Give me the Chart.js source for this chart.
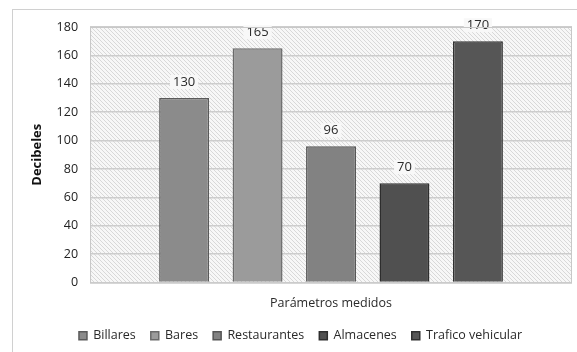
<!DOCTYPE html>
<html>
<head>
<meta charset="utf-8">
<script src="https://cdn.jsdelivr.net/npm/chart.js@4/dist/chart.umd.min.js"></script>
<style>
  html, body { margin: 0; padding: 0; background: #fff; }
  #wrap { width: 577px; height: 352px; position: relative; }
</style>
</head>
<body>
<div id="wrap"><canvas id="chart" width="577" height="352"></canvas></div>
<script>
// Data
const seriesNames = ['Billares', 'Bares', 'Restaurantes', 'Almacenes', 'Trafico vehicular'];
const seriesValues = [130, 165, 96, 70, 170];
const categories = [''];
const yMin = 0;
const yMax = 180;
const yStep = 20;

// Styles
const barColors = ['#8b8b8b', '#9b9b9b', '#828282', '#505050', '#565656'];
const barBorders = ['#5a5a5a', '#6a6a6a', '#555555', '#2e2e2e', '#303030'];
const FONT = "'Open Sans', 'Noto Sans', sans-serif";

// Hatched plot background
function makeHatch() {
    const c = document.createElement('canvas');
    c.width = 4;
    c.height = 4;
    const g = c.getContext('2d');
    g.fillStyle = '#f7f7f7';
    g.fillRect(0, 0, 4, 4);
    g.strokeStyle = '#d8d8d8';
    g.lineWidth = 1;
    g.beginPath();
    g.moveTo(-1, -1); g.lineTo(5, 5);
    g.moveTo(-1, 3); g.lineTo(1, 5);
    g.moveTo(3, -1); g.lineTo(5, 1);
    g.stroke();
    return c;
}

const backgroundPlugin = {
    id: 'plotBackground',
    beforeDraw(chart) {
        const { ctx, chartArea: a } = chart;
        ctx.save();
        // outer frame
        ctx.strokeStyle = '#d0d0d0';
        ctx.lineWidth = 1;
        ctx.strokeRect(12.5, 9.5, 620, 400);
        ctx.fillStyle = ctx.createPattern(makeHatch(), 'repeat');
        ctx.fillRect(a.left, a.top, a.right - a.left, a.bottom - a.top);
        ctx.restore();
    },
    afterDraw(chart) {
        const { ctx, chartArea: a } = chart;
        ctx.save();
        ctx.strokeStyle = '#c8c8c8';
        ctx.lineWidth = 1;
        ctx.strokeRect(a.left + 0.5, a.top + 0.5, a.right - a.left - 1, a.bottom - a.top);
        ctx.restore();
    }
};

// Value labels above bars
const valueLabels = {
    id: 'valueLabels',
    afterDatasetsDraw(chart) {
        const { ctx } = chart;
        ctx.save();
        ctx.font = '13px ' + FONT;
        ctx.textAlign = 'center';
        ctx.textBaseline = 'middle';
        chart.data.datasets.forEach((ds, i) => {
            const meta = chart.getDatasetMeta(i);
            meta.data.forEach((bar, j) => {
                const text = String(ds.data[j]);
                const w = ctx.measureText(text).width;
                const y = bar.y - 16;
                ctx.fillStyle = '#f8f8f8';
                ctx.fillRect(bar.x - w / 2 - 3, y - 7, w + 6, 14);
                ctx.fillStyle = '#2a2a2a';
                ctx.fillText(text, bar.x, y);
            });
        });
        ctx.restore();
    }
};

new Chart(document.getElementById('chart'), {
    type: 'bar',
    data: {
        labels: categories,
        datasets: seriesNames.map((name, i) => ({
            label: name,
            data: [seriesValues[i]],
            backgroundColor: barColors[i],
            borderColor: barBorders[i],
            borderWidth: 1.5,
            categoryPercentage: 0.762,
            barPercentage: 0.68
        }))
    },
    options: {
        responsive: false,
        animation: false,
        devicePixelRatio: 1,
        layout: {
            padding: { left: 29, right: 5, top: 27, bottom: 0 }
        },
        plugins: {
            legend: {
                position: 'bottom',
                labels: {
                    boxWidth: 8,
                    boxHeight: 8,
                    padding: 15,
                    color: '#2a2a2a',
                    font: { family: FONT, size: 12.5 }
                }
            },
            tooltip: { enabled: false }
        },
        scales: {
            x: {
                grid: { display: false, drawTicks: false },
                border: { display: false },
                ticks: { display: false },
                title: {
                    display: true,
                    text: 'Parámetros medidos',
                    color: '#2a2a2a',
                    font: { family: FONT, size: 12.5 },
                    padding: { top: 13, bottom: 4 }
                }
            },
            y: {
                min: yMin,
                max: yMax,
                ticks: {
                    stepSize: yStep,
                    color: '#222',
                    padding: 12,
                    font: { family: FONT, size: 12.5 }
                },
                grid: {
                    color: '#cdcdcd',
                    lineWidth: 1.5,
                    drawTicks: false
                },
                border: { display: false },
                title: {
                    display: true,
                    text: 'Decibeles',
                    color: '#111',
                    font: { family: FONT, size: 13, weight: 'bold' },
                    padding: { top: 0, bottom: 0 }
                }
            }
        }
    },
    plugins: [backgroundPlugin, valueLabels]
});
</script>
</body>
</html>
